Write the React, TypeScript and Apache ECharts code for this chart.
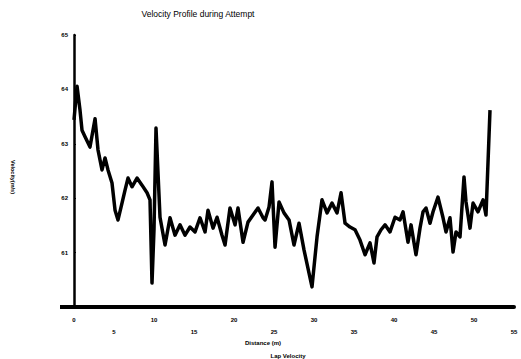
import React, { useEffect, useRef } from "react";
import * as echarts from "echarts";

const titleText = "Velocity Profile during Attempt";
const xName = "Distance (m)";
const yName = "Velocity(m/s)";
const subName = "Lap Velocity";
const xTickValues = [0, 5, 10, 15, 20, 25, 30, 35, 40, 45, 50, 55];

const distance = [
  0, 0.38, 0.75, 1.0, 1.38, 2.0, 2.63, 3.0, 3.5, 3.88, 4.25, 4.75, 5.13, 5.5,
  6.0, 6.38, 6.75, 7.25, 7.88, 8.5, 9.13, 9.5, 9.75, 10.0, 10.25,
  10.75, 11.38, 12.0, 12.63, 13.25, 13.88, 14.5, 15.13, 15.75, 16.38, 16.75,
  17.38, 17.88, 18.5, 18.88, 19.5, 20.13, 20.5, 21.13, 21.75, 22.38, 23.0,
  23.63, 23.88, 24.38, 24.75, 25.13, 25.63, 26.25, 26.88, 27.5, 28.13, 28.75,
  29.75, 30.38, 31.0, 31.63, 32.25, 32.88, 33.38, 33.88, 34.5, 35.13, 35.75,
  36.38, 37.0, 37.5, 37.88, 38.38, 38.88, 39.5, 40.13, 40.75, 41.13, 41.75,
  42.13, 42.75, 43.25, 43.63, 44.0, 44.5, 44.88, 45.5, 46.13, 46.5, 47.0,
  47.38, 47.75, 48.25, 48.75, 49.0, 49.5, 49.88, 50.5, 51.13, 51.5, 52.0,
];
const velocity = [
  63.44, 64.06, 63.62, 63.25, 63.13, 62.94, 63.46, 62.89, 62.52, 62.74, 62.52,
  62.28, 61.78, 61.6, 61.91, 62.15, 62.37, 62.21, 62.37, 62.24, 62.1, 61.97,
  60.44, 61.42, 63.29,
  61.65, 61.14, 61.64, 61.32, 61.51, 61.32, 61.47, 61.38, 61.64, 61.38, 61.78,
  61.45, 61.65, 61.32, 61.14, 61.82, 61.51, 61.82, 61.19, 61.56, 61.69, 61.82,
  61.64, 61.6, 61.84, 62.3, 61.1, 61.93, 61.73, 61.6, 61.14, 61.54, 61.05,
  60.37, 61.29, 61.97, 61.73, 61.91, 61.73, 62.1, 61.54, 61.47, 61.42, 61.23,
  60.96, 61.18, 60.81, 61.29, 61.42, 61.51, 61.38, 61.65, 61.6, 61.75, 61.19,
  61.51, 60.96, 61.45, 61.75, 61.82, 61.54, 61.75, 62.02, 61.64, 61.38, 61.64,
  61.01, 61.38, 61.29, 62.39, 61.93, 61.45, 61.91, 61.75, 61.97, 61.69, 63.62,
];

export default function App() {
  const ref = useRef<HTMLDivElement>(null);
  useEffect(() => {
    if (!ref.current) return;
    const chart = echarts.init(ref.current, null, { renderer: "svg" });
    const data = distance.map((d, i) => [d, velocity[i]]);
    const font = "'Liberation Sans', Arial, sans-serif";
    chart.setOption({
      animation: false,
      backgroundColor: "#fff",
      grid: { left: 72, right: 7, top: 35, bottom: 52 },
      graphic: [
        {
          type: "text",
          x: 198,
          y: 14,
          style: {
            text: titleText,
            fontSize: 8.5,
            fontFamily: font,
            fill: "#000",
            textAlign: "center",
            textVerticalAlign: "middle",
          },
        },
        {
          type: "text",
          x: 263,
          y: 343,
          style: {
            text: xName,
            fontSize: 6,
            fontWeight: "bold",
            fontFamily: font,
            fill: "#000",
            textAlign: "center",
            textVerticalAlign: "middle",
          },
        },
        {
          type: "text",
          x: 288,
          y: 356,
          style: {
            text: subName,
            fontSize: 6,
            fontWeight: "bold",
            fontFamily: font,
            fill: "#000",
            textAlign: "center",
            textVerticalAlign: "middle",
          },
        },
        {
          type: "text",
          x: 13,
          y: 177,
          rotation: -Math.PI / 2,
          style: {
            text: yName,
            fontSize: 5.5,
            fontWeight: "bold",
            fontFamily: font,
            fill: "#000",
            textAlign: "center",
            textVerticalAlign: "middle",
          },
        },
        {
          type: "line",
          shape: { x1: 60, y1: 307, x2: 72, y2: 307 },
          style: { stroke: "#000", lineWidth: 4 },
        },
      ],
      xAxis: {
        type: "value",
        min: -0.25,
        max: 55,
        splitLine: { show: false },
        axisLine: { show: true, onZero: false, lineStyle: { color: "#000", width: 4 } },
        axisTick: { show: false },
        axisLabel: {
          customValues: xTickValues,
          fontSize: 6,
          fontWeight: "bold",
          fontFamily: font,
          color: "#000",
          margin: 7,
          lineHeight: 12,
          formatter: (v: number) => (Math.round(v / 5) % 2 === 1 ? "\n" + v : "" + v),
        },
      },
      yAxis: {
        type: "value",
        min: 60,
        max: 65,
        interval: 1,
        splitLine: { show: false },
        axisLine: { show: true, lineStyle: { color: "#000", width: 2.5 } },
        axisTick: { show: true, inside: true, length: 2, lineStyle: { color: "#000" } },
        axisLabel: {
          fontSize: 6,
          fontWeight: "bold",
          fontFamily: font,
          color: "#000",
          margin: 4,
        },
      },
      series: [
        {
          type: "line",
          data,
          showSymbol: false,
          symbol: "none",
          lineStyle: { color: "#000", width: 3.5, join: "round" },
        },
      ],
    });
    return () => chart.dispose();
  }, []);
  return <div ref={ref} style={{ width: 521, height: 359, position: "absolute", left: 0, top: 0 }} />;
}
